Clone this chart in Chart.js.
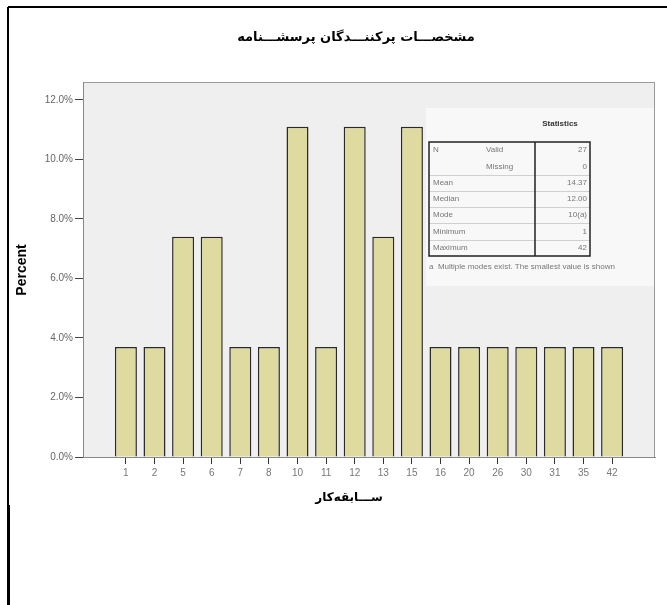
<!DOCTYPE html>
<html>
<head>
<meta charset="utf-8">
<script src="https://cdn.jsdelivr.net/npm/chart.js@4.4.1/dist/chart.umd.min.js"></script>
<style>
html,body{margin:0;padding:0;background:#fff;}
#c{display:block;}
</style>
</head>
<body>
<canvas id="c" width="667" height="605"></canvas>
<script>
const chartTitle = 'مشخصـــات پرکننـــدگان پرسشـــنامه';
const xTitle = 'ســـابقه‌کار';
const yTitle = 'Percent';
const categories = ['1','2','5','6','7','8','10','11','12','13','15','16','20','26','30','31','35','42'];
const percents = [3.7,3.7,7.4,7.4,3.7,3.7,11.1,3.7,11.1,7.4,11.1,3.7,3.7,3.7,3.7,3.7,3.7,3.7];
const yTicks = [0,2,4,6,8,10,12];
const statGroup = ['N','','Mean','Median','Mode','Minimum','Maximum'];
const statSub = ['Valid','Missing','','','','',''];
const statValues = ['27','0','14.37','12.00','10(a)','1','42'];
const statsTitle = 'Statistics';
const statsNote = 'a  Multiple modes exist. The smallest value is shown';

const decor = {
  id: 'decor',
  beforeDraw(chart) {
    const ctx = chart.ctx, a = chart.chartArea;
    ctx.save();
    ctx.fillStyle = '#ffffff';
    ctx.fillRect(0, 0, chart.width, chart.height);
    // frame lines
    ctx.strokeStyle = '#000';
    ctx.lineWidth = 2;
    ctx.beginPath();
    ctx.moveTo(8, 7); ctx.lineTo(chart.width, 7);
    ctx.moveTo(8, 7); ctx.lineTo(8, chart.height);
    ctx.stroke();
    ctx.fillStyle = '#000';
    ctx.fillRect(7, 505, 3, chart.height - 505);
    // plot background
    ctx.fillStyle = '#efefef';
    ctx.fillRect(a.left, a.top, a.right - a.left, a.bottom - a.top);
    ctx.fillStyle = '#f8f8f8';
    ctx.fillRect(426, 108, a.right - 426, 178);
    ctx.strokeStyle = '#9a9a9a';
    ctx.lineWidth = 1;
    ctx.strokeRect(a.left + 0.5, a.top + 0.5, a.right - a.left - 1, a.bottom - a.top);
    ctx.restore();
  },
  afterDraw(chart) {
    const ctx = chart.ctx;
    ctx.save();
    ctx.fillStyle = '#000';
    ctx.textAlign = 'center';
    ctx.textBaseline = 'middle';
    ctx.direction = 'rtl';
    ctx.font = 'bold 13px "DejaVu Sans"';
    ctx.fillText(chartTitle, 356, 38);
    ctx.font = 'bold 12px "DejaVu Sans"';
    ctx.fillText(xTitle, 349, 498);
    ctx.direction = 'ltr';
    ctx.save();
    ctx.translate(22, 270);
    ctx.rotate(-Math.PI / 2);
    ctx.font = 'bold 14px "Liberation Sans"';
    ctx.fillText(yTitle, 0, 0);
    ctx.restore();

    // statistics table
    const L = 429, R = 590, T = 142, B = 256, D = 535;
    ctx.font = 'bold 8px "Liberation Sans"';
    ctx.fillStyle = '#333';
    ctx.fillText(statsTitle, 560, 124);
    ctx.strokeStyle = '#d0d0d0';
    ctx.lineWidth = 1;
    const rowH = (B - T) / statGroup.length;
    ctx.beginPath();
    for (let i = 2; i < statGroup.length; i++) {
      const y = Math.round(T + rowH * i) + 0.5;
      ctx.moveTo(L, y); ctx.lineTo(R, y);
    }
    ctx.stroke();
    ctx.strokeStyle = '#222';
    ctx.lineWidth = 1.5;
    ctx.strokeRect(L, T, R - L, B - T);
    ctx.beginPath();
    ctx.moveTo(D, T); ctx.lineTo(D, B);
    ctx.stroke();
    ctx.font = '8px "Liberation Sans"';
    ctx.fillStyle = '#777';
    for (let i = 0; i < statGroup.length; i++) {
      const y = T + rowH * (i + 0.5);
      ctx.textAlign = 'left';
      ctx.fillText(statGroup[i], L + 4, y);
      ctx.fillText(statSub[i], 486, y);
      ctx.textAlign = 'right';
      ctx.fillText(statValues[i], R - 3, y);
    }
    ctx.textAlign = 'left';
    ctx.fillText(statsNote, L, 267);
    ctx.restore();
  }
};

new Chart(document.getElementById('c'), {
  type: 'bar',
  data: {
    datasets: [{
      data: percents.map((v, i) => ({ x: i, y: v })),
      backgroundColor: '#dfdba0',
      borderColor: '#2a2a2a',
      borderWidth: 1.5,
      barPercentage: 0.77,
      categoryPercentage: 1
    }]
  },
  options: {
    responsive: false,
    animation: false,
    devicePixelRatio: 1,
    layout: { padding: { top: 82, right: 12, left: 0, bottom: 0 } },
    plugins: { legend: { display: false }, tooltip: { enabled: false }, title: { display: false } },
    scales: {
      x: {
        type: 'linear',
        min: -1.5,
        max: 18.5,
        offset: false,
        afterBuildTicks: s => { s.ticks = categories.map((c, i) => ({ value: i })); },
        afterFit: s => { s.height = 148; },
        ticks: {
          autoSkip: false,
          maxRotation: 0,
          padding: 3,
          color: '#777',
          font: { family: 'Liberation Sans', size: 10 },
          callback: v => categories[v]
        },
        grid: { offset: false, drawOnChartArea: false, drawTicks: true, tickLength: 7, color: '#333', lineWidth: 1 },
        border: { display: true, color: '#888' }
      },
      y: {
        min: 0,
        max: 12.6,
        afterBuildTicks: s => { s.ticks = yTicks.map(v => ({ value: v })); },
        afterFit: s => { s.width = 83; },
        ticks: {
          padding: 2,
          color: '#666',
          font: { family: 'Liberation Sans', size: 10 },
          callback: v => v.toFixed(1) + '%'
        },
        grid: { drawOnChartArea: false, drawTicks: true, tickLength: 8, color: '#444', lineWidth: 1 },
        border: { display: true, color: '#888' }
      }
    }
  },
  plugins: [decor]
});
</script>
</body>
</html>
